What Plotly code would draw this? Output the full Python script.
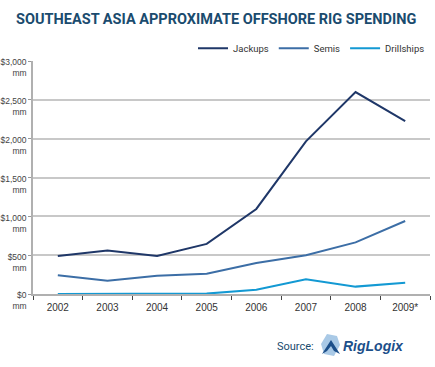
import plotly.graph_objects as go

years = ["2002", "2003", "2004", "2005", "2006", "2007", "2008", "2009*"]
jackups = [490, 560, 490, 645, 1095, 1965, 2600, 2225]
semis = [240, 170, 235, 260, 400, 500, 665, 940]
drillships = [0, 0, 0, 5, 55, 190, 95, 145]

tick_vals = [0, 500, 1000, 1500, 2000, 2500, 3000]
tick_text = ["$0<br>mm", "$500<br>mm", "$1,000<br>mm", "$1,500<br>mm",
             "$2,000<br>mm", "$2,500<br>mm", "$3,000<br>mm"]

W, H = 435, 367
fig = go.Figure()
series = [("Jackups", jackups, "#1f3768"), ("Semis", semis, "#3c6ea6"), ("Drillships", drillships, "#1399d3")]
for name, vals, col in series:
    fig.add_trace(go.Scatter(x=years, y=vals, name=name, mode="lines",
                             line=dict(color=col, width=2)))

fig.update_layout(
    width=W, height=H,
    margin=dict(l=33, r=5, t=61, b=73),
    plot_bgcolor="white", paper_bgcolor="white",
    title=dict(text="<b>SOUTHEAST ASIA APPROXIMATE OFFSHORE RIG SPENDING</b>",
               x=0.497, xanchor="center", y=0.948, yanchor="middle",
               font=dict(family="Roboto, Arial", size=14.5, color="#1a4b6e")),
    legend=dict(orientation="h", x=1.0, xanchor="right", y=1.055, yanchor="middle",
                font=dict(family="Roboto, Arial", size=9.5, color="#333"),
                itemwidth=30, tracegroupgap=0, bgcolor="rgba(0,0,0,0)"),
    showlegend=True,
)
fig.update_xaxes(type="category", showgrid=False, showline=True, linecolor="#b0b0b0", linewidth=2,
                 ticks="outside", tickson="boundaries", ticklen=4, tickcolor="#444", tickwidth=1,
                 tickfont=dict(family="Arial, Liberation Sans", size=10, color="#333"),
                 ticklabelstandoff=3,
                 range=[-0.5, 7.5], automargin=False)
fig.update_yaxes(range=[0, 3000], tickvals=tick_vals, ticktext=tick_text,
                 showgrid=True, gridcolor="#c8c8c8", gridwidth=1.5,
                 showline=True, linecolor="#b0b0b0", linewidth=1.5,
                 ticks="outside", ticklen=3, tickcolor="#999",
                 tickfont=dict(family="Arial, Liberation Sans", size=8.5, color="#444"),
                 ticklabelshift=7,
                 zeroline=False, automargin=False)

def px(xp):
    return (xp - 33) / 397
def py(yp):
    return (294 - yp) / 233

# Source label and logo
fig.add_annotation(text="Source:", xref="paper", yref="paper", x=px(316), y=py(346),
                   xanchor="right", yanchor="middle", showarrow=False,
                   font=dict(family="Roboto, Arial", size=11, color="#1a4b6e"))
fig.add_annotation(text="<b><i>RigLogix</i></b>", xref="paper", yref="paper", x=px(341),
                   y=py(346), xanchor="left", yanchor="middle", showarrow=False,
                   font=dict(family="Arial, Liberation Sans", size=14, color="#1c4f8a"))
fig.add_shape(type="path", xref="paper", yref="paper",
              path=f"M {px(327)} {py(334)} L {px(337)} {py(336)} L {px(340)} {py(345)} L {px(334)} {py(356)} L {px(324)} {py(354)} L {px(321)} {py(344)} Z",
              fillcolor="#a9c9e6", line=dict(width=0))
fig.add_shape(type="path", xref="paper", yref="paper",
              path=f"M {px(322)} {py(354)} L {px(331)} {py(340)} L {px(340)} {py(354)} L {px(334)} {py(351)} L {px(331)} {py(346)} L {px(327)} {py(351)} Z",
              fillcolor="#1c4f8a", line=dict(width=0))

fig.write_html("out.html", config={"displayModeBar": False},
               post_script="document.body.style.margin='0';document.body.style.padding='0';")
